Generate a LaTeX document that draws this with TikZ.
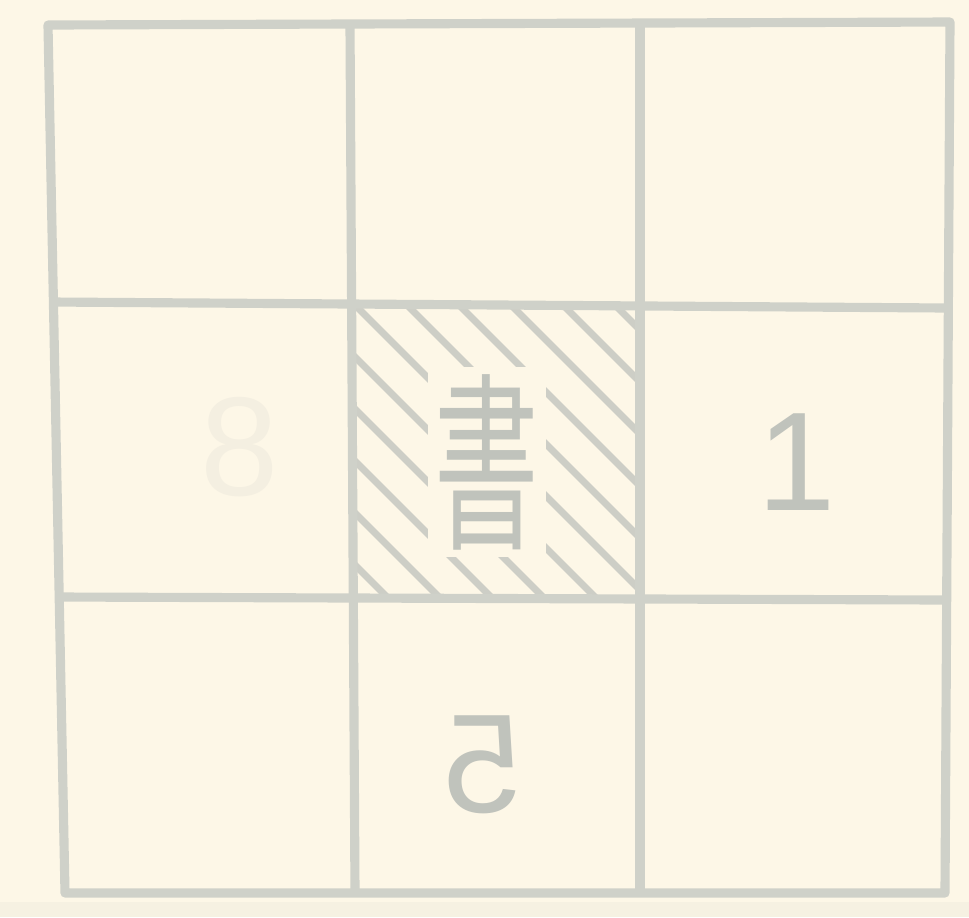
\documentclass[tikz,border=0pt]{standalone}
\usepackage{fontspec}
\setmainfont{Liberation Sans}
\newfontfamily\cjk{Noto Sans CJK SC}
\usetikzlibrary{positioning}
\definecolor{paper}{RGB}{253,247,231}
\definecolor{gridline}{RGB}{207,209,201}
\definecolor{inkgray}{RGB}{192,195,188}
\definecolor{hatchgray}{RGB}{205,206,198}

\begin{document}
\begin{tikzpicture}[
  x=0.01cm, y=-0.01cm,
  gridrule/.style={draw=gridline, line width=2.6pt, line join=round},
  hatchline/.style={draw=hatchgray, line width=2pt},
  digit/.style={text=inkgray, inner sep=1pt, font=\fontsize{40}{40}\selectfont}
]
  \fill[paper] (0,0) rectangle (969,917);
  \fill[paper!85!gridline] (0,902) rectangle (969,917);
  \coordinate (tl) at (48,25);
  \coordinate (tr) at (950,22);
  \coordinate (br) at (945,893);
  \coordinate (bl) at (65,893);
  \coordinate (v1t) at (350,24);
  \coordinate (v1b) at (355,893);
  \coordinate (v2t) at (640,23);
  \coordinate (v2b) at (640,893);
  \coordinate (h1l) at (52,302);
  \coordinate (h1r) at (948,308);
  \coordinate (h2l) at (58,597);
  \coordinate (h2r) at (946,600);
  \begin{scope}
    \clip (352,304) -- (640,306) -- (640,599) -- (354,598) -- cycle;
    \foreach \d in {-312,-260,...,300}
      \draw[hatchline] (350+\d,300) -- ++(310,310);
  \end{scope}
  \node[fill=paper, inner sep=2pt, text=inkgray] (shu) at (487,462)
    {\scalebox{0.55}[1]{\cjk\fontsize{54}{54}\selectfont 書}};
  \node[digit] (one) at (797,462) {1};
  \node[digit] (five) at (482,765) {\scalebox{-1}[1]{5}};
  \node[digit, text=paper!85!inkgray] (eight) at (240,447) {8};
  \draw[gridrule] (tl) -- (tr) -- (br) -- (bl) -- cycle;
  \draw[gridrule] (v1t) -- (v1b);
  \draw[gridrule] (v2t) -- (v2b);
  \draw[gridrule] (h1l) -- (h1r);
  \draw[gridrule] (h2l) -- (h2r);
\end{tikzpicture}
\end{document}
